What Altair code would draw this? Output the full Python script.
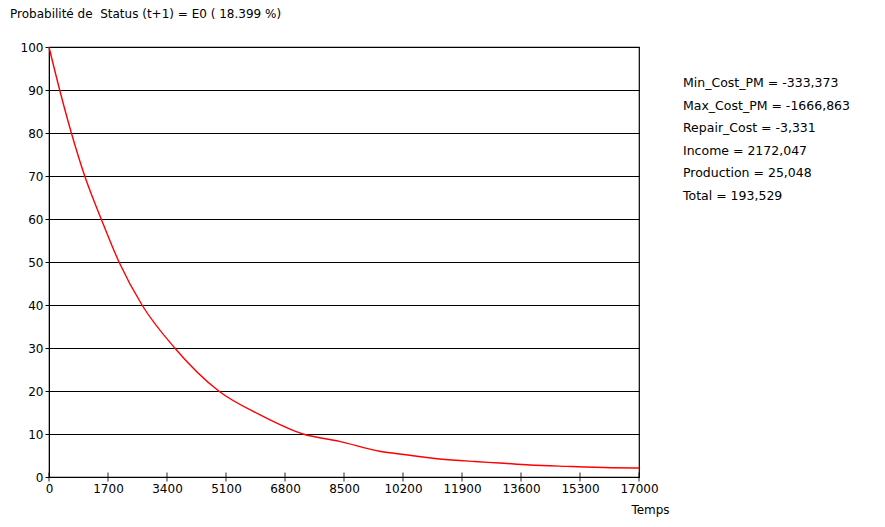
import altair as alt
import pandas as pd

# Curve values
temps = [0, 308, 645, 1029, 1504, 2017, 2680, 3622, 4890, 6070, 7318, 8370,
         9528, 10104, 11257, 12265, 12985, 13850, 14915, 16212, 17000]
proba = [100, 90, 80, 70, 60, 50, 40, 30, 20, 14.5, 10, 8.3,
         6.0, 5.35, 4.2, 3.6, 3.25, 2.8, 2.47, 2.16, 2.1]

x_ticks = [0, 1700, 3400, 5100, 6800, 8500, 10200, 11900, 13600, 15300, 17000]
y_ticks = [0, 10, 20, 30, 40, 50, 60, 70, 80, 90, 100]

title_text = "Probabilité de\u00a0 Status (t+1) = E0 ( 18.399 %)"
info_lines = [
    "Min_Cost_PM = -333,373",
    "Max_Cost_PM = -1666,863",
    "Repair_Cost = -3,331",
    "Income = 2172,047",
    "Production = 25,048",
    "Total = 193,529",
]

FONT = "DejaVu Sans"
W, H = 590, 430

df = pd.DataFrame({"t": temps, "p": proba})
ticks_df = pd.DataFrame({"t": x_ticks, "p": [0] * len(x_ticks)})
info_df = pd.DataFrame({"txt": ["\n".join(info_lines)]})
title_df = pd.DataFrame({"txt": [title_text]})

xscale = alt.Scale(domain=[0, 17000], nice=False, zero=False)
yscale = alt.Scale(domain=[0, 100], nice=False)

line = alt.Chart(df).mark_line(color="#ff0000", strokeWidth=1.4, interpolate="monotone").encode(
    x=alt.X("t:Q", scale=xscale,
            axis=alt.Axis(values=x_ticks, format="d", title="Temps", grid=False, ticks=False,
                          domainColor="black", labelColor="black", labelFont=FONT,
                          labelFontSize=12, labelPadding=6, labelFlush=False,
                          titleFont=FONT, titleFontSize=12, titleFontWeight="normal",
                          titleColor="black", titleX=601, titleY=32,
                          titleAlign="center", titleBaseline="middle")),
    y=alt.Y("p:Q", scale=yscale,
            axis=alt.Axis(values=y_ticks, title=None, grid=True, gridColor="black",
                          gridOpacity=1, gridWidth=1.2, tickColor="black", tickSize=4,
                          domainColor="black", labelColor="black", labelFont=FONT,
                          labelFontSize=12, labelPadding=2)),
)

xticks = alt.Chart(ticks_df).mark_tick(color="black", size=9, thickness=1.2, orient="vertical").encode(
    x=alt.X("t:Q", scale=xscale),
    y=alt.Y("p:Q", scale=yscale),
)

title = alt.Chart(title_df).mark_text(
    font=FONT, fontSize=12, align="left", baseline="middle", color="black"
).encode(text="txt:N", x=alt.value(-39), y=alt.value(-33))

info = alt.Chart(info_df).mark_text(
    font=FONT, fontSize=12.5, align="left", baseline="middle", color="black",
    lineBreak="\n", lineHeight=22.5,
).encode(text="txt:N", x=alt.value(634), y=alt.value(36))

chart = alt.layer(line, xticks, title, info).properties(
    width=W, height=H,
    autosize=alt.AutoSizeParams(type="none"),
    padding={"left": 41, "top": 39, "right": 238, "bottom": 42},
    background="white",
).configure_view(stroke="black", strokeWidth=1.2)

chart.save("out.html", embed_options={"renderer": "svg", "actions": False})
